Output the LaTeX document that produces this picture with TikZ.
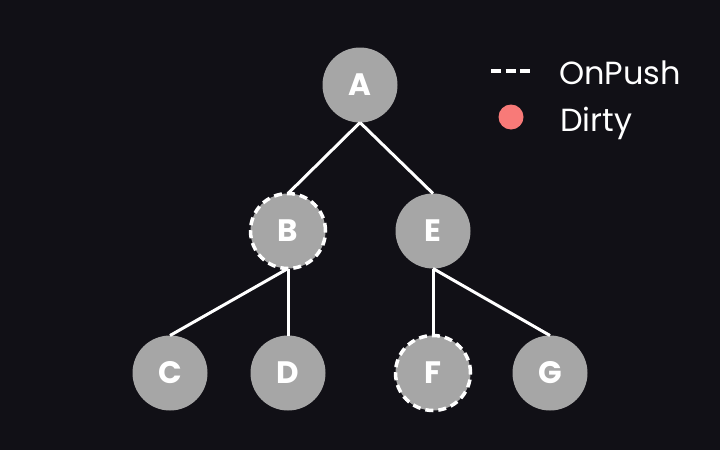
\documentclass[tikz,border=0pt]{standalone}
\usepackage{fontspec}
\setmainfont{Poppins}
\begin{document}
\begin{tikzpicture}[x=1pt,y=-1pt,
  treenode/.style={circle,fill=nodegray,minimum size=75pt,inner sep=0pt,outer sep=0pt,
    text=white,font=\fontsize{31}{31}\selectfont\bfseries},
  onpush/.style={draw=white,line width=3.5pt,dash pattern=on 8pt off 5pt},
  edge/.style={draw=white,line width=3pt},
  legendtext/.style={text=white,anchor=base west,inner sep=0pt,font=\fontsize{32}{32}\selectfont}]
\definecolor{bg}{HTML}{111016}
\definecolor{nodegray}{HTML}{A6A6A6}
\definecolor{dirty}{HTML}{F87A78}
\fill[bg] (0,0) rectangle (720,450);
\useasboundingbox (0,0) rectangle (720,450);
\node[treenode] (A) at (360,85) {A};
\node[treenode,onpush] (B) at (288,231) {B};
\node[treenode] (E) at (433,231) {E};
\node[treenode] (C) at (170,373) {C};
\node[treenode] (D) at (288,373) {D};
\node[treenode,onpush] (F) at (433,373) {F};
\node[treenode] (G) at (550,373) {G};
\draw[edge] (A.south) -- (B.north);
\draw[edge] (A.south) -- (E.north);
\draw[edge] (B.south) -- (C.north);
\draw[edge] (B.south) -- (D.north);
\draw[edge] (E.south) -- (F.north);
\draw[edge] (E.south) -- (G.north);
\coordinate (l1) at (491,71);
\coordinate (l2) at (530,71);
\draw[draw=white,line width=3.3pt,dash pattern=on 10pt off 4.5pt] (l1) -- (l2);
\node[legendtext] (t1) at (559,84) {OnPush};
\node[circle,fill=dirty,minimum size=25pt,inner sep=0pt] (dot) at (511,117) {};
\node[legendtext] (t2) at (560,131) {Dirty};
\end{tikzpicture}
\end{document}
